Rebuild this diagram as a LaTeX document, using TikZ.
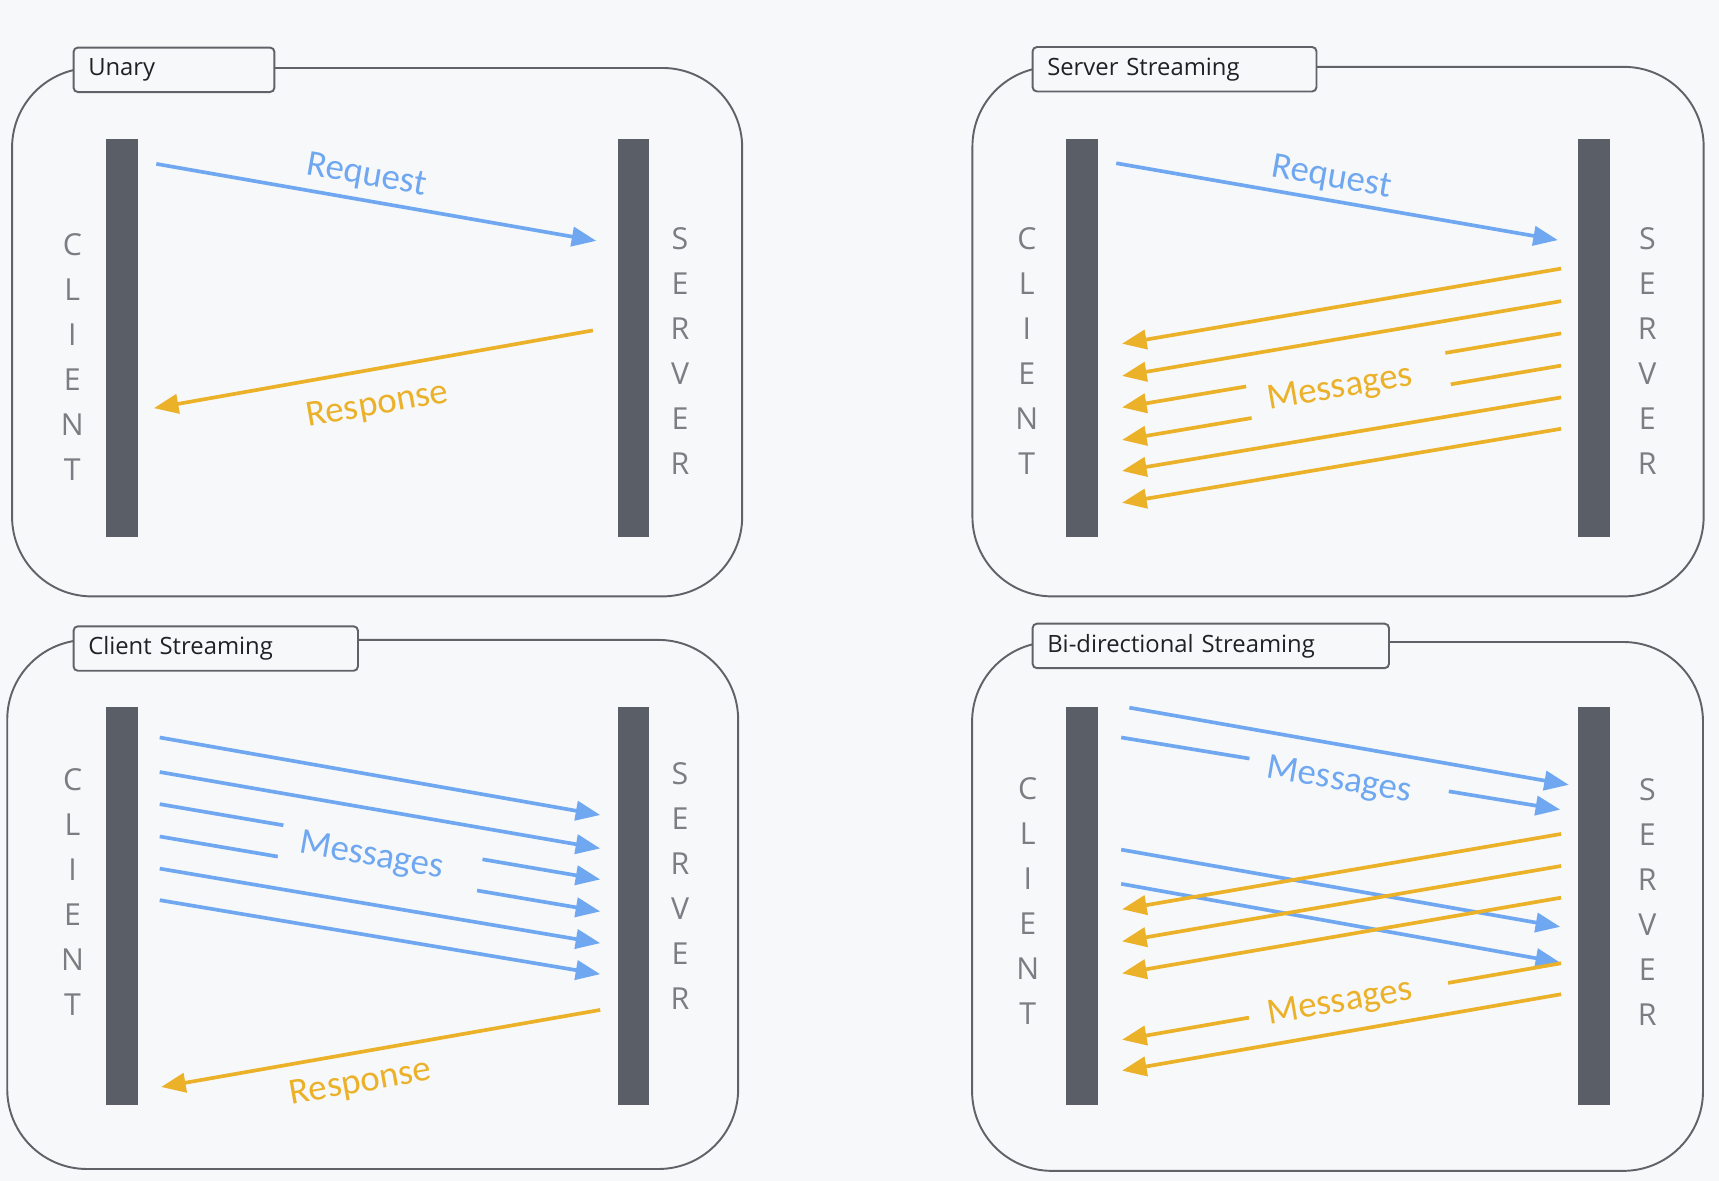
\documentclass[tikz,border=0pt]{standalone}
\usepackage{fontspec}
\setmainfont{Open Sans}
\newfontfamily\labelfont{Carlito}
\usetikzlibrary{arrows.meta}

\definecolor{pagebg}{HTML}{F7F8FA}
\definecolor{barcol}{HTML}{5A5E67}
\definecolor{framecol}{HTML}{5F6368}
\definecolor{titlecol}{HTML}{202124}
\definecolor{msgblue}{HTML}{6FA8F0}
\definecolor{msgorange}{HTML}{EBB129}
\definecolor{lettergray}{HTML}{7B7D82}

\tikzstyle{panel} = [draw=framecol, line width=1.1pt, rounded corners=16mm]
\tikzstyle{tabbox} = [rectangle, rounded corners=2.5pt, 
draw=framecol, line width=1.1pt, 
fill=pagebg, anchor=north west, 
minimum height=25.4pt, inner xsep=8.4pt, inner ysep=0pt, 
align=left, text=titlecol, 
font=\fontsize{13.6}{15}\selectfont]
\tikzstyle{lifeline} = [rectangle, fill=barcol, anchor=north west, 
minimum width=18.2pt, minimum height=227.4pt, inner sep=0pt]
\tikzstyle{letters} = [align=center, text=lettergray, inner sep=0pt, 
font=\fontsize{17.3}{25.7}\selectfont]
\tikzstyle{bluearrow} = [draw=msgblue, line width=2.1pt, -{Triangle[length=14pt,width=11pt]}]
\tikzstyle{orangearrow} = [draw=msgorange, line width=2.1pt, -{Triangle[length=14pt,width=11pt]}]
\tikzstyle{bluelabel} = [text=msgblue, font=\labelfont\fontsize{21}{24}\selectfont]
\tikzstyle{orangelabel} = [text=msgorange, font=\labelfont\fontsize{21}{24}\selectfont]
\tikzstyle{cutout} = [fill=pagebg, inner xsep=11pt, inner ysep=4pt]

\begin{document}
\begin{tikzpicture}[x=0.22mm, y=-0.22mm]

		\fill[pagebg] (0,0) rectangle (1568,1077);
		\useasboundingbox (0,0) rectangle (1568,1077);
		
		% Unary
		\draw[panel] (11,62) rectangle (677,544);
		\node[tabbox, text width=97.9pt] (unary) at (66.2,42.5) {Unary};
		\node[lifeline] (u-client) at (96.2,126.2) {};
		\node[lifeline] (u-server) at (563,126.2) {};
		\node[letters] (u-ctext) at (66,325.6) {C\\L\\I\\E\\N\\T};
		\node[letters] (u-stext) at (620.3,320.5) {S\\E\\R\\V\\E\\R};
		\coordinate (u-req-a) at (142.6,149.5);
		\coordinate (u-req-b) at (543.9,219.7);
		\coordinate (u-res-a) at (540.8,301.4);
		\coordinate (u-res-b) at (140.4,372.3);
		\draw[bluearrow] (u-req-a) -- (u-req-b);
		\draw[orangearrow] (u-res-a) -- (u-res-b);
		\node[bluelabel, rotate=-9.9] (u-req) at (334.2,160.6) {Request};
		\node[orangelabel, rotate=10] (u-res) at (344.4,369.9) {Response};
		
		% Server Streaming
		\draw[panel] (887,61) rectangle (1554,544);
		\node[tabbox, text width=145.3pt] (serverstream) at (941,42) {Server Streaming};
		\node[lifeline] (ss-client) at (971.9,126.2) {};
		\node[lifeline] (ss-server) at (1439.4,126.2) {};
		\node[letters] (ss-ctext) at (936.6,320) {C\\L\\I\\E\\N\\T};
		\node[letters] (ss-stext) at (1502.6,320.4) {S\\E\\R\\V\\E\\R};
		\coordinate (ss-req-a) at (1018.2,148.9);
		\coordinate (ss-req-b) at (1421,219);
		\draw[bluearrow] (ss-req-a) -- (ss-req-b);
		\node[bluelabel, rotate=-9.9] (ss-req) at (1214.3,162.4) {Request};
		\foreach \i/\ya/\yb in {1/245/313.5, 2/274.7/342.9, 3/304.1/371.6, 4/333.5/401.3, 5/362.5/429.6, 6/391.1/458.6}{
			\coordinate (ss-s\i) at (1424,\ya);
			\coordinate (ss-c\i) at (1023.5,\yb);
			\draw[orangearrow] (ss-s\i) -- (ss-c\i);
		}
		\node[orangelabel, cutout, rotate=9.7] (ss-msg) at (1230.3,353.3) {Messages\kern10pt};
		
		% Client Streaming
		\draw[panel] (6.6,583.7) rectangle (673.3,1066.3);
		\node[tabbox, text width=145.6pt] (clientstream) at (66.2,570.4) {Client Streaming};
		\node[lifeline] (cs-client) at (96.2,644.4) {};
		\node[lifeline] (cs-server) at (563,644.4) {};
		\node[letters] (cs-ctext) at (66.2,813.9) {C\\L\\I\\E\\N\\T};
		\node[letters] (cs-stext) at (620.3,808) {S\\E\\R\\V\\E\\R};
		\foreach \i/\ya/\yb in {1/672.7/743.4, 2/704.2/773.9, 3/733.5/802.2, 4/763/831.4, 5/792.3/860.3, 6/821.1/888.6}{
			\coordinate (cs-c\i) at (145.7,\ya);
			\coordinate (cs-s\i) at (547.5,\yb);
			\draw[bluearrow] (cs-c\i) -- (cs-s\i);
		}
		\node[bluelabel, cutout, rotate=-10] (cs-msg) at (346.7,783) {Messages\kern10pt};
		\coordinate (cs-res-a) at (547.5,921.2);
		\coordinate (cs-res-b) at (147,991.5);
		\draw[orangearrow] (cs-res-a) -- (cs-res-b);
		\node[orangelabel, rotate=10] (cs-res) at (329,988.2) {Response};
		
		% Bi-directional Streaming
		\draw[panel] (886.7,585.6) rectangle (1553.4,1068);
		\node[tabbox, text width=186.7pt] (bidistream) at (941,568) {Bi-directional Streaming};
		\node[lifeline] (bd-client) at (971.9,644.4) {};
		\node[lifeline] (bd-server) at (1439.4,644.4) {};
		\node[letters] (bd-ctext) at (937.5,822.2) {C\\L\\I\\E\\N\\T};
		\node[letters] (bd-stext) at (1502.6,822.5) {S\\E\\R\\V\\E\\R};
		\foreach \i/\xa/\ya/\xb/\yb in {1/1030.2/645.5/1431/715.9, 2/1022.7/672.7/1423.1/738.5, 3/1022.7/775/1423.1/845.4, 4/1022.7/806.2/1423.1/878}{
			\coordinate (bd-c\i) at (\xa,\ya);
			\coordinate (bd-s\i) at (\xb,\yb);
			\draw[bluearrow] (bd-c\i) -- (bd-s\i);
		}
		\foreach \i/\ya/\yb in {1/760.7/829.4, 2/789.9/858.7, 3/818.8/887.9, 4/878.6/948.4, 5/906.9/976.6}{
			\coordinate (bd-t\i) at (1424,\ya);
			\coordinate (bd-r\i) at (1023.5,\yb);
			\draw[orangearrow] (bd-t\i) -- (bd-r\i);
		}
		\node[bluelabel, cutout, inner ysep=2pt, rotate=-9.6] (bd-msg-up) at (1229.4,713.9) {Messages\kern10pt};
		\node[orangelabel, cutout, inner ysep=2pt, rotate=9.7] (bd-msg-down) at (1230.3,913.8) {Messages\kern10pt};
		
	\end{tikzpicture}
\end{document}
